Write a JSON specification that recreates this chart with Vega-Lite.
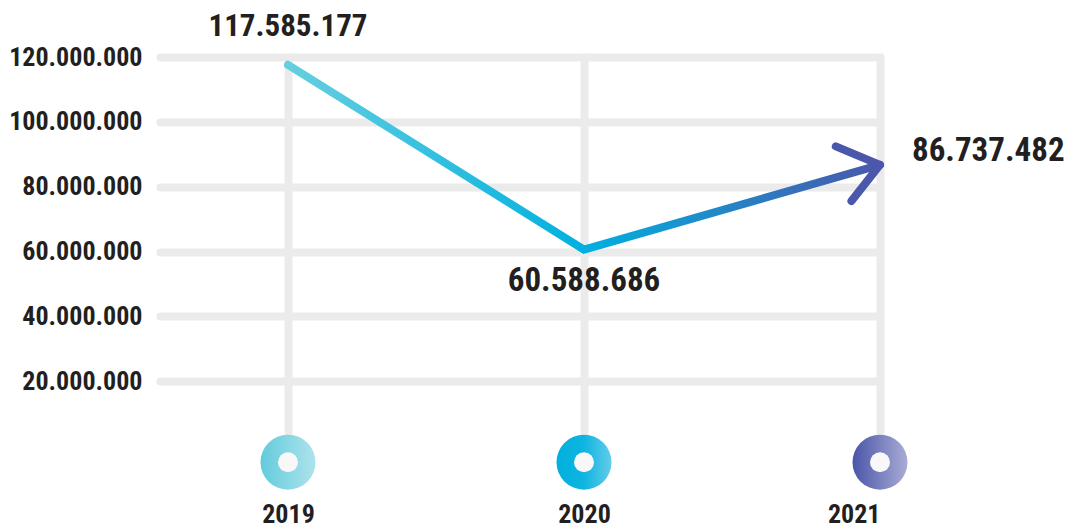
{
  "$schema": "https://vega.github.io/schema/vega-lite/v6.json",
  "autosize": {"type": "none"},
  "width": 720,
  "height": 389,
  "padding": {"left": 160, "top": 57, "right": 194, "bottom": 83},
  "background": "#ffffff",
  "config": {
    "view": {"stroke": null},
    "font": "Roboto Condensed, Liberation Sans, Arial, sans-serif"
  },
  "data": {
    "values": [
      {"year": 2019, "value": 117585177, "label": "117.585.177"},
      {"year": 2020, "value": 60588686, "label": "60.588.686"},
      {"year": 2021, "value": 86737482, "label": "86.737.482"}
    ]
  },
  "encoding": {
    "x": {
      "field": "year",
      "type": "quantitative",
      "scale": {"domain": [2018.5676, 2021], "nice": false, "zero": false},
      "axis": {
        "values": [2019, 2020, 2021],
        "format": "d",
        "title": null,
        "domain": false,
        "ticks": false,
        "grid": true,
        "gridColor": "#ebebeb",
        "gridWidth": 8,
        "gridCap": "round",
        "labelFont": "Roboto Condensed, Liberation Sans, Arial, sans-serif",
        "labelFontSize": 26,
        "labelFontWeight": "bold",
        "labelColor": "#231f20",
        "labelPadding": 55
      }
    },
    "y": {
      "field": "value",
      "type": "quantitative",
      "scale": {"domain": [0, 120000000], "nice": false},
      "axis": {
        "values": [20000000, 40000000, 60000000, 80000000, 100000000, 120000000],
        "labelExpr": "replace(format(datum.value, ',d'), /,/g, '.')",
        "title": null,
        "domain": false,
        "ticks": false,
        "grid": true,
        "gridColor": "#ebebeb",
        "gridWidth": 8,
        "gridCap": "round",
        "labelFont": "Roboto Condensed, Liberation Sans, Arial, sans-serif",
        "labelFontSize": 26,
        "labelFontWeight": "bold",
        "labelColor": "#231f20",
        "labelPadding": 18,
        "labelLimit": 300
      }
    }
  },
  "layer": [
    {
      "mark": {
        "type": "line",
        "strokeWidth": 8,
        "strokeCap": "round",
        "strokeJoin": "miter",
        "color": {
          "gradient": "linear",
          "x1": 0, "y1": 0, "x2": 1, "y2": 0,
          "stops": [
            {"offset": 0, "color": "#66cfdf"},
            {"offset": 0.5, "color": "#00b0e0"},
            {"offset": 1, "color": "#4a57ab"}
          ]
        }
      }
    },
    {
      "transform": [{"filter": "datum.year == 2021"}],
      "mark": {
        "type": "point",
        "shape": "M-1,-0.8L0,0L-1,0.72",
        "filled": false,
        "size": 5600,
        "angle": -16,
        "stroke": "#4a57ab",
        "strokeWidth": 8,
        "strokeCap": "round",
        "strokeJoin": "round",
        "opacity": 1
      }
    },
    {
      "transform": [{"filter": "datum.year == 2019"}],
      "mark": {
        "type": "point", "shape": "circle", "filled": true, "size": 3025, "opacity": 1,
        "fill": {"gradient": "linear", "x1": 0, "y1": 0, "x2": 1, "y2": 0,
          "stops": [{"offset": 0, "color": "#62cbdc"}, {"offset": 1, "color": "#aee3ec"}]}
      },
      "encoding": {"y": {"datum": -5000000}}
    },
    {
      "transform": [{"filter": "datum.year == 2020"}],
      "mark": {
        "type": "point", "shape": "circle", "filled": true, "size": 3025, "opacity": 1,
        "fill": {"gradient": "linear", "x1": 0, "y1": 0, "x2": 1, "y2": 0,
          "stops": [{"offset": 0, "color": "#00b0de"}, {"offset": 0.5, "color": "#10b4e0"}, {"offset": 1, "color": "#62cdea"}]}
      },
      "encoding": {"y": {"datum": -5000000}}
    },
    {
      "transform": [{"filter": "datum.year == 2021"}],
      "mark": {
        "type": "point", "shape": "circle", "filled": true, "size": 3025, "opacity": 1,
        "fill": {"gradient": "linear", "x1": 0, "y1": 0, "x2": 1, "y2": 0,
          "stops": [{"offset": 0, "color": "#4a55a8"}, {"offset": 1, "color": "#a9acd6"}]}
      },
      "encoding": {"y": {"datum": -5000000}}
    },
    {
      "mark": {"type": "point", "shape": "circle", "filled": true, "size": 400, "opacity": 1, "fill": "#f8f8f8"},
      "encoding": {"y": {"datum": -5000000}}
    },
    {
      "transform": [{"filter": "datum.year == 2019"}],
      "mark": {"type": "text", "fontSize": 31, "fontWeight": "bold", "color": "#231f20", "align": "center", "baseline": "middle", "dy": -38},
      "encoding": {"text": {"field": "label"}}
    },
    {
      "transform": [{"filter": "datum.year == 2020"}],
      "mark": {"type": "text", "fontSize": 33, "fontWeight": "bold", "color": "#231f20", "align": "center", "baseline": "middle", "dy": 31},
      "encoding": {"text": {"field": "label"}}
    },
    {
      "transform": [{"filter": "datum.year == 2021"}],
      "mark": {"type": "text", "fontSize": 33, "fontWeight": "bold", "color": "#231f20", "align": "left", "baseline": "middle", "dx": 32, "dy": -14},
      "encoding": {"text": {"field": "label"}}
    }
  ]
}
